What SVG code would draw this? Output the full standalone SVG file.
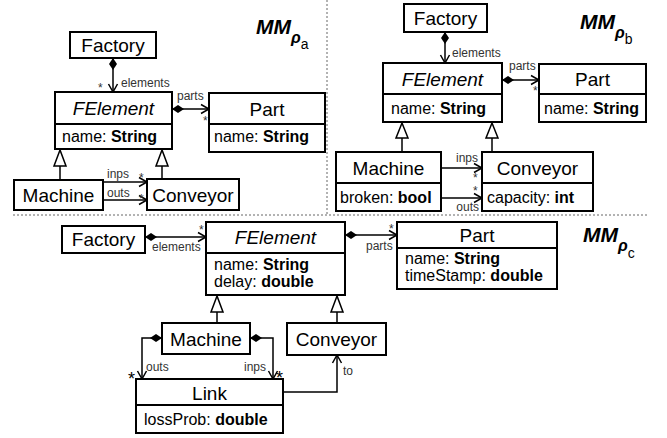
<svg xmlns="http://www.w3.org/2000/svg" width="667" height="438" viewBox="0 0 667 438">
<style>
.box{fill:#fff;stroke:#000;stroke-width:2}
.div{stroke:#000;stroke-width:2}
text{font-family:"Liberation Sans",Arial,sans-serif;fill:#000}
.cn{font-size:19px;text-anchor:middle}
.ab{font-style:italic}
.at{font-size:16px}
.b{font-weight:bold}
.s{font-size:12px;fill:#333}
.st{font-size:12px;fill:#333}
.bs{font-size:18px}
.con{stroke:#000;stroke-width:1.5;fill:none}
.gen{fill:#fff;stroke:#000;stroke-width:1.5}
.dot{stroke:#666;stroke-width:1;stroke-dasharray:2,2;fill:none}
.tt{font-size:21px;font-weight:bold;font-style:italic}
.rho{font-size:16px;font-weight:bold;font-style:italic}
.sub{font-size:14px}
</style>
<defs>
<marker id="arr" markerUnits="userSpaceOnUse" markerWidth="1" markerHeight="1" orient="auto" overflow="visible">
<path d="M-8,-4.5 L0,0 L-8,4.5" fill="none" stroke="#000" stroke-width="1.5"/>
</marker>
<marker id="dia" markerUnits="userSpaceOnUse" markerWidth="1" markerHeight="1" orient="auto" overflow="visible">
<path d="M0,0 L6,-4 L12,0 L6,4 Z" fill="#000"/>
</marker>
</defs>

<!-- dotted separators -->
<line class="dot" x1="327" y1="0" x2="327" y2="214"/>
<line class="dot" x1="13" y1="215" x2="648" y2="215"/>

<!-- titles -->
<text x="256" y="34"><tspan class="tt">MM</tspan><tspan class="rho" dy="9">ρ</tspan><tspan class="sub" dy="6">a</tspan></text>
<text x="580" y="29"><tspan class="tt">MM</tspan><tspan class="rho" dy="9">ρ</tspan><tspan class="sub" dy="6">b</tspan></text>
<text x="583" y="242"><tspan class="tt">MM</tspan><tspan class="rho" dy="9">ρ</tspan><tspan class="sub" dy="7">c</tspan></text>

<!-- connectors -->
<g id="connectors">
<!-- panel a -->
<path class="con" d="M113,58 L113,92" marker-start="url(#dia)" marker-end="url(#arr)"/>
<path class="con" d="M172,109 L209,109" marker-start="url(#dia)" marker-end="url(#arr)"/>
<path class="con" d="M103,182 L147,182" marker-end="url(#arr)"/>
<path class="con" d="M103,200 L147,200" marker-end="url(#arr)"/>
<line class="con" x1="60" y1="166" x2="60" y2="180"/>
<polygon class="gen" points="60,150 54,166 66,166"/>
<line class="con" x1="162" y1="166" x2="162" y2="179"/>
<polygon class="gen" points="162,150 156,166 168,166"/>
<text class="st" x="98" y="92">*</text>
<text class="s" x="121" y="87">elements</text>
<text class="s" x="177" y="100">parts</text>
<text class="st" x="203" y="125">*</text>
<text class="s" x="107" y="178">inps</text>
<text class="st" x="139" y="182">*</text>
<text class="s" x="107" y="197">outs</text>
<text class="st" x="139" y="203">*</text>

<!-- panel b -->
<path class="con" d="M445,32 L445,63" marker-start="url(#dia)" marker-end="url(#arr)"/>
<path class="con" d="M502,80 L539,80" marker-start="url(#dia)" marker-end="url(#arr)"/>
<path class="con" d="M441,168 L482,168" marker-end="url(#arr)"/>
<path class="con" d="M441,198 L482,198" marker-end="url(#arr)"/>
<line class="con" x1="402" y1="138" x2="402" y2="152"/>
<polygon class="gen" points="402,123 396,138 408,138"/>
<line class="con" x1="492" y1="138" x2="492" y2="152"/>
<polygon class="gen" points="492,123 486,138 498,138"/>
<text class="s" x="452" y="57">elements</text>
<text class="s" x="509" y="70">parts</text>
<text class="st" x="533" y="95">*</text>
<text class="s" x="478" y="162" text-anchor="end">inps</text>
<text class="st" x="473" y="182">*</text>
<text class="st" x="473" y="195">*</text>
<text class="s" x="479" y="211" text-anchor="end">outs</text>

<!-- panel c -->
<path class="con" d="M145,237 L206,237" marker-start="url(#dia)" marker-end="url(#arr)"/>
<path class="con" d="M345,235 L397,235" marker-start="url(#dia)" marker-end="url(#arr)"/>
<line class="con" x1="217" y1="312" x2="217" y2="323"/>
<polygon class="gen" points="217,296 211,312 223,312"/>
<line class="con" x1="337" y1="312" x2="337" y2="323"/>
<polygon class="gen" points="337,296 331,312 343,312"/>
<path class="con" d="M162,338 L142,338 L142,379" marker-start="url(#dia)" marker-end="url(#arr)"/>
<path class="con" d="M250,338 L273,338 L273,379" marker-start="url(#dia)" marker-end="url(#arr)"/>
<path class="con" d="M283,392 L337,392 L337,355" marker-end="url(#arr)"/>
<text class="st" x="199" y="234">*</text>
<text class="s" x="152" y="251">elements</text>
<text class="st" x="389" y="233">*</text>
<text class="s" x="366" y="250">parts</text>
<text class="bs" x="128" y="385">*</text>
<text class="s" x="146" y="371">outs</text>
<text class="s" x="266" y="371" text-anchor="end">inps</text>
<text class="bs" x="276" y="384">*</text>
<text class="s" x="343" y="375">to</text>
</g>

<!-- panel a nodes -->
<g id="a-factory"><rect class="box" x="70" y="32" width="86" height="26"/><text class="cn" x="113" y="52">Factory</text></g>
<g id="a-felement"><rect class="box" x="55" y="92" width="117" height="57"/><line class="div" x1="55" y1="124" x2="172" y2="124"/><text class="cn ab" x="113.5" y="115">FElement</text><text class="at" x="62" y="142">name: <tspan class="b">String</tspan></text></g>
<g id="a-part"><rect class="box" x="209" y="93" width="116" height="59"/><line class="div" x1="209" y1="124" x2="325" y2="124"/><text class="cn" x="267" y="116">Part</text><text class="at" x="214" y="142">name: <tspan class="b">String</tspan></text></g>
<g id="a-machine"><rect class="box" x="14" y="180" width="89" height="30"/><text class="cn" x="58.5" y="202">Machine</text></g>
<g id="a-conveyor"><rect class="box" x="147" y="179" width="92" height="31"/><text class="cn" x="193" y="202">Conveyor</text></g>

<!-- panel b nodes -->
<g id="b-factory"><rect class="box" x="404" y="4" width="83" height="28"/><text class="cn" x="445.5" y="25">Factory</text></g>
<g id="b-felement"><rect class="box" x="383" y="63" width="119" height="59"/><line class="div" x1="383" y1="94" x2="502" y2="94"/><text class="cn ab" x="442.5" y="86">FElement</text><text class="at" x="391" y="114">name: <tspan class="b">String</tspan></text></g>
<g id="b-part"><rect class="box" x="539" y="64" width="107" height="58"/><line class="div" x1="539" y1="94" x2="646" y2="94"/><text class="cn" x="592.5" y="86">Part</text><text class="at" x="544" y="114">name: <tspan class="b">String</tspan></text></g>
<g id="b-machine"><rect class="box" x="336" y="152" width="105" height="59"/><line class="div" x1="336" y1="183" x2="441" y2="183"/><text class="cn" x="388.5" y="175">Machine</text><text class="at" x="340" y="203">broken: <tspan class="b">bool</tspan></text></g>
<g id="b-conveyor"><rect class="box" x="482" y="152" width="111" height="59"/><line class="div" x1="482" y1="183" x2="593" y2="183"/><text class="cn" x="537.5" y="175">Conveyor</text><text class="at" x="487" y="203">capacity: <tspan class="b">int</tspan></text></g>

<!-- panel c nodes -->
<g id="c-factory"><rect class="box" x="62" y="226" width="83" height="27"/><text class="cn" x="103.5" y="246">Factory</text></g>
<g id="c-felement"><rect class="box" x="206" y="222" width="139" height="73"/><line class="div" x1="206" y1="253" x2="345" y2="253"/><text class="cn ab" x="275.5" y="244">FElement</text><text class="at" x="214" y="270">name: <tspan class="b">String</tspan></text><text class="at" x="214" y="287">delay: <tspan class="b">double</tspan></text></g>
<g id="c-part"><rect class="box" x="397" y="222" width="160" height="67"/><line class="div" x1="397" y1="248" x2="557" y2="248"/><text class="cn" x="477" y="242">Part</text><text class="at" x="405" y="264">name: <tspan class="b">String</tspan></text><text class="at" x="405" y="281">timeStamp: <tspan class="b">double</tspan></text></g>
<g id="c-machine"><rect class="box" x="162" y="323" width="88" height="31"/><text class="cn" x="206" y="346">Machine</text></g>
<g id="c-conveyor"><rect class="box" x="287" y="323" width="99" height="32"/><text class="cn" x="336.5" y="346">Conveyor</text></g>
<g id="c-link"><rect class="box" x="136" y="379" width="147" height="54"/><line class="div" x1="136" y1="405" x2="283" y2="405"/><text class="cn" x="209.5" y="400">Link</text><text class="at" x="144" y="425">lossProb: <tspan class="b">double</tspan></text></g>
</svg>
